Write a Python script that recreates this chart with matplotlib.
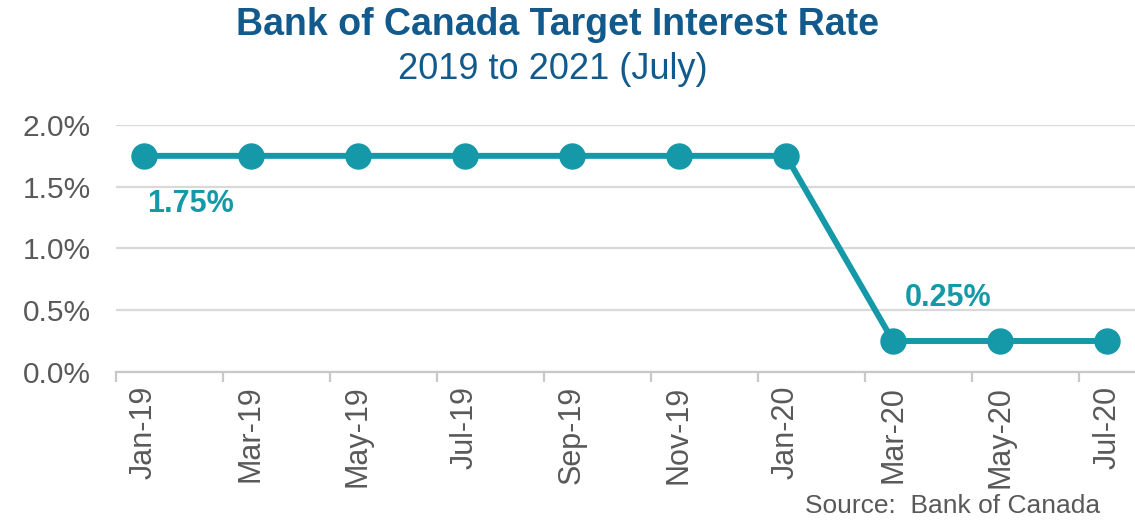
import numpy as np
import matplotlib
matplotlib.use("Agg")
import matplotlib.pyplot as plt
from matplotlib.ticker import FixedLocator, FuncFormatter

plt.rcParams['font.family'] = ['Liberation Sans', 'DejaVu Sans']

# data
months = ["Jan-19", "Mar-19", "May-19", "Jul-19", "Sep-19", "Nov-19",
          "Jan-20", "Mar-20", "May-20", "Jul-20"]
rates = [1.75, 1.75, 1.75, 1.75, 1.75, 1.75, 1.75, 0.25, 0.25, 0.25]
y_ticks = [0.0, 0.5, 1.0, 1.5, 2.0]

teal = "#1598A8"
navy = "#125A8C"
grey = "#595959"

fig = plt.figure(figsize=(11.35, 5.23), dpi=100)
ax = fig.add_axes([0.102, 0.289, 0.898, 0.472])

x = np.arange(len(months))
ax.plot(x, rates, color=teal, lw=4.3, marker="o", markersize=18,
        solid_capstyle="round", zorder=3, clip_on=False)

# annotations
ax.text(x[0] + 0.03, rates[0] - 0.39, "1.75%", color=teal, fontsize=22,
        fontweight="bold", ha="left", va="center")
ax.text(x[7] + 0.11, rates[7] + 0.35, "0.25%", color=teal, fontsize=22,
        fontweight="bold", ha="left", va="center")

ax.set_ylim(0, 2.0)
ax.set_yticks(y_ticks)
ax.yaxis.set_major_formatter(FuncFormatter(lambda v, p: f"{v:.1f}%"))
ax.set_xlim(-0.26, len(months) - 1 + 0.26)
ax.set_xticks(x)
ax.set_xticklabels(months, rotation=90)
ax.xaxis.set_minor_locator(FixedLocator(np.arange(len(months) + 1) - 0.26))

ax.grid(axis="y", color="#D9D9D9", lw=1.6)
ax.set_axisbelow(True)
for s in ["top", "right", "left"]:
    ax.spines[s].set_visible(False)
ax.spines["bottom"].set_color("#C8C8C8")
ax.spines["bottom"].set_linewidth(1.6)

ax.tick_params(axis="y", length=0, labelsize=21.5, labelcolor=grey, pad=18)
ax.tick_params(axis="x", which="major", length=0, labelsize=22,
               labelcolor=grey, pad=10)
ax.tick_params(axis="x", which="minor", length=7, width=1.6, color="#C8C8C8")

fig.text(0.491, 0.952, "Bank of Canada Target Interest Rate", color=navy,
         fontsize=27, fontweight="bold", ha="center", va="center")
fig.text(0.487, 0.868, "2019 to 2021 (July)", color=navy, fontsize=26,
         ha="center", va="center")
fig.text(0.839, 0.032, "Source:  Bank of Canada", color=grey, fontsize=19,
         ha="center", va="center")

fig.savefig("out.png", dpi=100)
